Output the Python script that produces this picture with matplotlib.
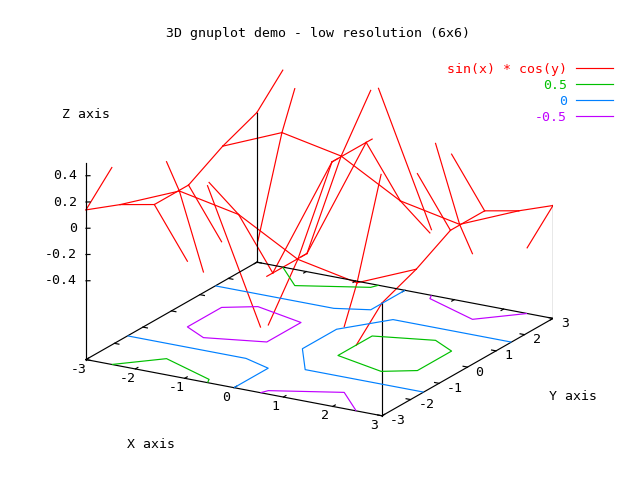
import numpy as np
import matplotlib
matplotlib.use('Agg')
import matplotlib.pyplot as plt
from matplotlib.lines import Line2D
from mpl_toolkits.mplot3d import proj3d

# 6x6 samples of the surface, rows = x, columns = y
xs = [-3.0, -1.8, -0.6, 0.6, 1.8, 3.0]
ys = [-3.0, -1.8, -0.6, 0.6, 1.8, 3.0]
zs = [[ 0.140,  0.032, -0.116, -0.116,  0.032,  0.140],
      [ 0.964,  0.221, -0.804, -0.804,  0.221,  0.964],
      [ 0.559,  0.128, -0.466, -0.466,  0.128,  0.559],
      [-0.559, -0.128,  0.466,  0.466, -0.128, -0.559],
      [-0.964, -0.221,  0.804,  0.804, -0.221, -0.964],
      [-0.140, -0.032,  0.116,  0.116, -0.032, -0.140]]

contour_levels = [-0.5, 0.0, 0.5]
contour_labels = ['-0.5', '0', '0.5']
surface_label = 'sin(x) * cos(y)'

xticks = [-3, -2, -1, 0, 1, 2, 3]
yticks = [-3, -2, -1, 0, 1, 2, 3]
zticks = [-0.4, -0.2, 0.0, 0.2, 0.4]

zmin, zmax = -0.5, 0.5
zbase = -1.0

RED = '#ff0000'
GREEN = '#00c000'
BLUE = '#0080ff'
PURPLE = '#c000ff'
LW = 0.85
FONT = 'DejaVu Sans Mono'
FS = 9.5


def clip_seg(p, q, lo, hi):
    # clip a 3d segment to lo <= z <= hi
    z0, z1 = p[2], q[2]
    t0, t1 = 0.0, 1.0
    if z0 == z1:
        if z0 < lo or z0 > hi:
            return None
    else:
        ta = (lo - z0) / (z1 - z0)
        tb = (hi - z0) / (z1 - z0)
        t0 = max(t0, min(ta, tb))
        t1 = min(t1, max(ta, tb))
        if t0 >= t1:
            return None
    a = p + t0 * (q - p)
    b = p + t1 * (q - p)
    return a, b


def label3d(x, y, z, s, dx, dy, ha):
    # put a 2d text next to a projected 3d point, offset in pixels
    px, py, _ = proj3d.proj_transform(x, y, z, ax.get_proj())
    ax.annotate(s, xy=(px, py), xycoords='data', xytext=(dx, dy),
                textcoords='offset pixels', ha=ha, va='center',
                family=FONT, fontsize=FS)


Z = np.array(zs)
X, Y = np.meshgrid(xs, ys, indexing='ij')

fig = plt.figure(figsize=(6.4, 4.8), dpi=100)
ax = fig.add_axes([-7 / 640, -7 / 480, 1, 1], projection='3d', proj_type='ortho')
ax.set_axis_off()
ax.view_init(elev=19.2, azim=-60)
ax.set_xlim(-3, 3)
ax.set_ylim(-3, 3)
ax.set_zlim(zbase, zmax)
ax.set_box_aspect((342, 342, 208.6), zoom=1.065)

# surface mesh, clipped to the z range
segs = []
for i in range(len(xs)):
    for j in range(len(ys) - 1):
        segs.append((np.array([X[i, j], Y[i, j], Z[i, j]]),
                     np.array([X[i, j + 1], Y[i, j + 1], Z[i, j + 1]])))
for j in range(len(ys)):
    for i in range(len(xs) - 1):
        segs.append((np.array([X[i, j], Y[i, j], Z[i, j]]),
                     np.array([X[i + 1, j], Y[i + 1, j], Z[i + 1, j]])))
for p, q in segs:
    c = clip_seg(p, q, zmin, zmax)
    if c is None:
        continue
    a, b = c
    ax.plot([a[0], b[0]], [a[1], b[1]], [a[2], b[2]], color=RED, lw=LW)

# contours on the base
ax.contour(X, Y, Z, levels=contour_levels, colors=[PURPLE, BLUE, GREEN],
           offset=zbase, zdir='z', linewidths=LW)

# base box
x0, x1 = xs[0], xs[-1]
y0, y1 = ys[0], ys[-1]
ax.plot([x0, x1, x1, x0, x0], [y0, y0, y1, y1, y0], [zbase] * 5, color='black', lw=LW)
# z axis and corner verticals
ax.plot([x0, x0], [y0, y0], [zbase, zmax], color='black', lw=LW)
for (i, j) in [(-1, 0), (0, -1), (-1, -1)]:
    ax.plot([xs[i], xs[i]], [ys[j], ys[j]], [zbase, Z[i, j]], color='black', lw=LW)

tk = 0.09
for t in xticks:
    ax.plot([t, t], [y0, y0 + tk], [zbase, zbase], color='black', lw=LW)
    ax.plot([t, t], [y1, y1 - tk], [zbase, zbase], color='black', lw=LW)
    label3d(t, y0, zbase, str(t), -7.5, -9.5, 'center')
for t in yticks:
    ax.plot([x1, x1 - tk], [t, t], [zbase, zbase], color='black', lw=LW)
    ax.plot([x0, x0 + tk], [t, t], [zbase, zbase], color='black', lw=LW)
    label3d(x1, t, zbase, str(t), 8, -5, 'left')
for t in zticks:
    ax.plot([x0, x0 + 0.06], [y0, y0 + 0.038], [t, t], color='black', lw=LW)
    lab = '0' if t == 0 else '%.1f' % t
    label3d(x0, y0, t, lab, -9, 0, 'right')

fig.text(318 / 640, 1 - 34 / 480, '3D gnuplot demo - low resolution (6x6)',
         ha='center', va='center', family=FONT, fontsize=FS)
fig.text(86 / 640, 1 - 114 / 480, 'Z axis', ha='center', va='center',
         family=FONT, fontsize=FS)
fig.text(151 / 640, 1 - 445 / 480, 'X axis', ha='center', va='center',
         family=FONT, fontsize=FS)
fig.text(573 / 640, 1 - 397 / 480, 'Y axis', ha='center', va='center',
         family=FONT, fontsize=FS)

handles = [Line2D([], [], color=RED, lw=LW, label=surface_label),
           Line2D([], [], color=GREEN, lw=LW, label=contour_labels[2]),
           Line2D([], [], color=BLUE, lw=LW, label=contour_labels[1]),
           Line2D([], [], color=PURPLE, lw=LW, label=contour_labels[0])]
fig.legend(handles=handles, loc='upper right',
           bbox_to_anchor=(613 / 640, 1 - 63 / 480), frameon=False,
           markerfirst=False, labelcolor='linecolor', handlelength=2.8,
           handletextpad=0.68, labelspacing=0.22, borderpad=0,
           borderaxespad=0, prop={'family': FONT, 'size': FS})

fig.savefig('out.png', dpi=100)
